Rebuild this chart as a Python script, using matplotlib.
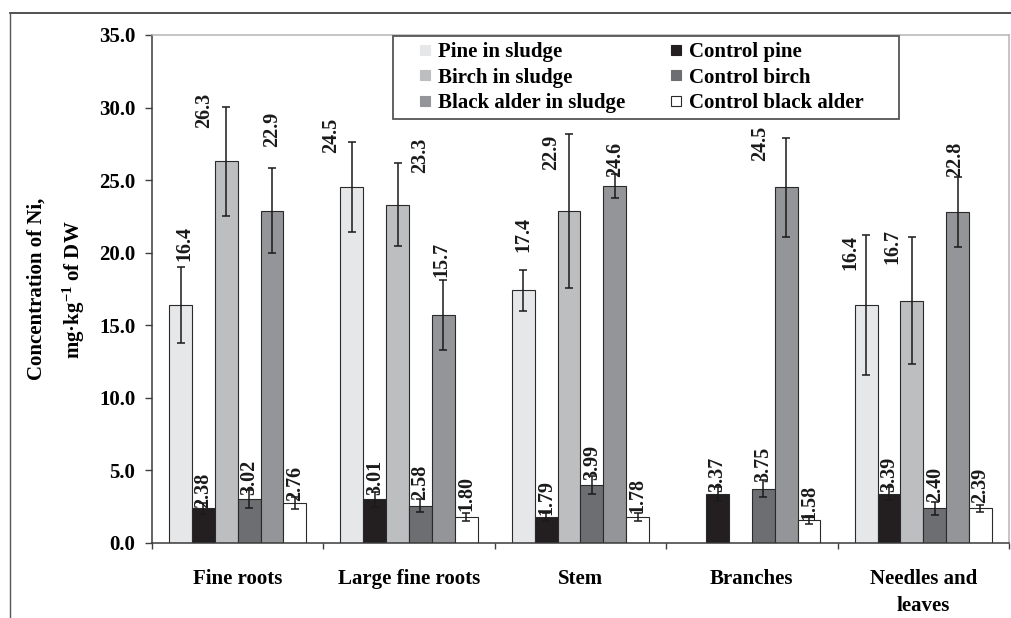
import numpy as np
import matplotlib
matplotlib.use('Agg')
import matplotlib.pyplot as plt
from matplotlib.lines import Line2D
from matplotlib.patches import Rectangle
from matplotlib.ticker import FormatStrFormatter, MultipleLocator, FixedLocator

plt.rcParams['font.family'] = ['Liberation Serif', 'DejaVu Serif']
plt.rcParams['mathtext.fontset'] = 'custom'
plt.rcParams['mathtext.rm'] = 'Liberation Serif:bold'
plt.rcParams['mathtext.it'] = 'Liberation Serif:bold'
plt.rcParams['mathtext.bf'] = 'Liberation Serif:bold'

# Ni concentration, mg/kg DW (mean +/- error)
categories = ['Fine roots', 'Large fine roots', 'Stem', 'Branches', 'Needles and\nleaves']
series = ['Pine in sludge', 'Control pine', 'Birch in sludge',
          'Control birch', 'Black alder in sludge', 'Control black alder']

pine_sludge = [16.4, 24.5, 17.4, np.nan, 16.4]
control_pine = [2.38, 3.01, 1.79, 3.37, 3.39]
birch_sludge = [26.3, 23.3, 22.9, np.nan, 16.7]
control_birch = [3.02, 2.58, 3.99, 3.75, 2.40]
alder_sludge = [22.9, 15.7, 24.6, 24.5, 22.8]
control_alder = [2.76, 1.80, 1.78, 1.58, 2.39]

pine_sludge_err = [2.6, 3.1, 1.4, np.nan, 4.8]
control_pine_err = [0.35, 0.5, 0.3, 0.5, 0.45]
birch_sludge_err = [3.75, 2.85, 5.3, np.nan, 4.4]
control_birch_err = [0.6, 0.45, 0.6, 0.6, 0.45]
alder_sludge_err = [2.95, 2.4, 0.8, 3.4, 2.4]
control_alder_err = [0.42, 0.28, 0.3, 0.25, 0.25]

values = [pine_sludge, control_pine, birch_sludge, control_birch, alder_sludge, control_alder]
errors = [pine_sludge_err, control_pine_err, birch_sludge_err, control_birch_err,
          alder_sludge_err, control_alder_err]
decimals = [1, 2, 1, 2, 1, 2]

colors = ['#e6e7e8', '#231f20', '#bcbec0', '#6d6e71', '#939598', '#ffffff']

# where each value label sits: bottom of text (data units) and sideways shift (points)
label_base = [
    [19.4, 26.9, 20.05, np.nan, 18.8],
    [2.4, 3.3, 1.93, 3.54, 3.54],
    [28.6, 25.5, 25.7, np.nan, 19.2],
    [3.3, 2.96, 4.34, 4.22, 2.85],
    [27.3, 18.3, 25.2, 26.3, 25.2],
    [2.9, 2.2, 2.05, 1.58, 2.78],
]
label_dx = [
    [3, -15, 0, 0, -11],
    [0, 0, 0, 0, 0],
    [-16, 16, -13, 0, -14],
    [0, 0, 0, 0, 0],
    [0, -1.5, 0, -19, -1.5],
    [0, 0, 0, 0, 0],
]

fig, ax = plt.subplots(figsize=(10.11, 6.18), dpi=100)
fig.subplots_adjust(left=0.1503, right=0.998, bottom=0.1214, top=0.9434)

x = np.arange(len(categories))
w = 0.8 / len(series)

for i, (vals, errs) in enumerate(zip(values, errors)):
    vals = np.array(vals, dtype=float)
    errs = np.array(errs, dtype=float)
    ok = ~np.isnan(vals)
    pos = x + (i - 2.5) * w
    ax.bar(pos[ok], vals[ok], width=w, color=colors[i], edgecolor='#2a2a2a',
           linewidth=0.8, zorder=2)
    ax.errorbar(pos[ok], vals[ok], yerr=errs[ok], fmt='none', ecolor='#1a1a1a',
                elinewidth=1.1, capsize=2.6, capthick=1.1, zorder=3)
    for j in np.where(ok)[0]:
        ax.annotate(f'{vals[j]:.{decimals[i]}f}', xy=(pos[j], label_base[i][j]),
                    xytext=(label_dx[i][j], 0), textcoords='offset points',
                    rotation=90, ha='center', va='bottom', fontsize=14.5,
                    fontweight='bold', color='#1a1a1a', zorder=4)

ax.set_ylim(0, 35)
ax.set_xlim(-0.5, len(categories) - 0.5)
ax.yaxis.set_major_locator(MultipleLocator(5))
ax.yaxis.set_major_formatter(FormatStrFormatter('%.1f'))
ax.tick_params(axis='y', direction='out', length=5, width=1, color='#404040',
               pad=7, labelsize=15)
for lab in ax.get_yticklabels():
    lab.set_fontweight('bold')

ax.set_xticks(x)
ax.set_xticklabels(categories, fontsize=15, fontweight='bold', linespacing=1.45)
ax.xaxis.set_minor_locator(FixedLocator(np.arange(-0.5, len(categories), 1.0)))
ax.tick_params(axis='x', which='major', length=0, pad=19)
ax.tick_params(axis='x', which='minor', direction='out', length=4.5, width=1, color='#404040')

for side in ['left', 'bottom']:
    ax.spines[side].set_color('#3a3a3a')
    ax.spines[side].set_linewidth(1.1)
for side in ['top', 'right']:
    ax.spines[side].set_color('#b5b5b5')
    ax.spines[side].set_linewidth(1.1)

fig.text(0.056, 0.532, 'Concentration of Ni,\nmg·kg$^{-1}$ of DW', rotation=90,
         ha='center', va='center', multialignment='center', fontsize=15,
         fontweight='bold', linespacing=1.75)

# legend: box drawn separately so its padding can be set freely
box_x0, box_y0, box_x1, box_y1 = 0.281, 0.835, 0.872, 0.998
ax.add_patch(Rectangle((box_x0, box_y0), box_x1 - box_x0, box_y1 - box_y0,
                       transform=ax.transAxes, facecolor='white', edgecolor='#555555',
                       linewidth=1.3, zorder=5, clip_on=False))
order = [0, 2, 4, 1, 3, 5]
handles = [Line2D([], [], linestyle='none', marker='s', markersize=7.3,
                  markerfacecolor=colors[k], markeredgewidth=0.8,
                  markeredgecolor='#2a2a2a' if k == 5 else colors[k]) for k in order]
leg = ax.legend(handles, [series[k] for k in order], ncol=2, loc='upper left',
                bbox_to_anchor=(box_x0, box_y1), fontsize=15, frameon=False,
                handlelength=2.45, handletextpad=-0.6, columnspacing=1.25,
                borderpad=0.3, labelspacing=0.26, borderaxespad=0, numpoints=1)
leg.set_zorder(6)
for t in leg.get_texts():
    t.set_fontweight('bold')

# outer frame around the figure
fig.add_artist(Line2D([10 / 1011, 1.0], [1 - 13 / 618, 1 - 13 / 618],
                      transform=fig.transFigure, color='#333333', linewidth=1.2))
fig.add_artist(Line2D([10 / 1011, 10 / 1011], [0, 1 - 13 / 618],
                      transform=fig.transFigure, color='#555555', linewidth=1.0))

fig.savefig('out.png', dpi=100)
